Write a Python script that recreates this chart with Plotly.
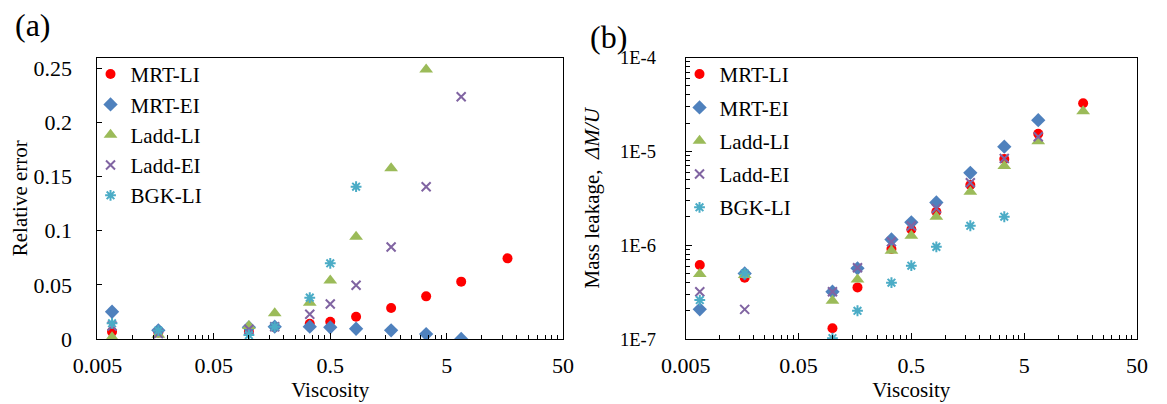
import plotly.graph_objects as go

# ---------------- data ----------------
viscosity = [0.00667, 0.01667, 0.1, 0.16667, 0.33333, 0.5, 0.83333, 1.66667, 3.33333, 6.66667, 16.6667]

# (a) relative error
err_mrt_li  = [0.0068, 0.0060, 0.0068, 0.0110, 0.0140, 0.0160, 0.0206, 0.0286, 0.0394, 0.0530, 0.0745]
err_mrt_ei  = [0.0252, 0.0080, 0.0108, 0.0114, 0.0114, 0.0108, 0.0095, 0.0080, 0.0046, 0.0000, None]
err_ladd_li = [0.0016, 0.0040, 0.0120, 0.0237, 0.0336, 0.0540, 0.0945, 0.1576, 0.2490, None, None]
err_ladd_ei = [0.0120, 0.0050, 0.0090, 0.0114, 0.0228, 0.0323, 0.0496, 0.0850, 0.1407, 0.2238, None]
err_bgk_li  = [0.0145, 0.0078, 0.0037, 0.0114, 0.0382, 0.0699, 0.1407, None, None, None, None]

# (b) mass leakage
ml_mrt_li  = [6.14e-7, 4.5e-7, 1.3e-7, 3.55e-7, 9.1e-7, 1.47e-6, 2.27e-6, 4.37e-6, 8.3e-6, 1.54e-5, 3.26e-5]
ml_mrt_ei  = [2.07e-7, 5.0e-7, 3.19e-7, 5.66e-7, 1.15e-6, 1.75e-6, 2.85e-6, 5.9e-6, 1.12e-5, 2.15e-5, None]
ml_ladd_li = [4.92e-7, 4.8e-7, 2.56e-7, 4.32e-7, 8.7e-7, 1.26e-6, 2.01e-6, 3.7e-6, 6.96e-6, 1.28e-5, 2.68e-5]
ml_ladd_ei = [3.19e-7, 2.07e-7, 3.19e-7, 5.75e-7, 1.09e-6, 1.6e-6, 2.46e-6, 4.62e-6, 8.4e-6, 1.43e-5, None]
ml_bgk_li  = [2.6e-7, 5.0e-7, 1.02e-7, 2.0e-7, 3.98e-7, 6.04e-7, 9.6e-7, 1.61e-6, 2.01e-6, None, None]

series_names = ["MRT-LI", "MRT-EI", "Ladd-LI", "Ladd-EI", "BGK-LI"]
x_ticks = [0.005, 0.05, 0.5, 5, 50]
x_tick_text = ["0.005", "0.05", "0.5", "5", "50"]
err_ticks = [0, 0.05, 0.1, 0.15, 0.2, 0.25]
err_tick_text = ["0", "0.05", "0.1", "0.15", "0.2", "0.25"]
ml_ticks = [1e-7, 1e-6, 1e-5, 1e-4]
ml_tick_text = ["1E-7", "1E-6", "1E-5", "1E-4"]

# ---------------- styles ----------------
FONT = "Liberation Serif"
styles = [
    dict(symbol="circle", size=10, color="#FF0000"),
    dict(symbol="diamond", size=11, color="#4F81BD"),
    dict(symbol="triangle-up", size=12, color="#9BBB59"),
    dict(symbol="x-thin-open", size=9, color="#8064A2", line=dict(width=2, color="#8064A2")),
    dict(symbol="asterisk-open", size=9, color="#4BACC6", line=dict(width=2, color="#4BACC6")),
]

fig = go.Figure()
err_data = [err_mrt_li, err_mrt_ei, err_ladd_li, err_ladd_ei, err_bgk_li]
ml_data = [ml_mrt_li, ml_mrt_ei, ml_ladd_li, ml_ladd_ei, ml_bgk_li]

for i, (name, ys) in enumerate(zip(series_names, err_data)):
    fig.add_trace(go.Scatter(x=viscosity, y=ys, mode="markers", name=name,
                             marker=styles[i], xaxis="x", yaxis="y",
                             legend="legend", legendgroup="a%d" % i))
for i, (name, ys) in enumerate(zip(series_names, ml_data)):
    fig.add_trace(go.Scatter(x=viscosity, y=ys, mode="markers", name=name,
                             marker=styles[i], xaxis="x2", yaxis="y2",
                             legend="legend2", legendgroup="b%d" % i))

minor_x = [0.005 * k * 10 ** n for n in range(4) for k in range(2, 10)]
minor_y = [k * 10.0 ** n for n in range(-7, -4) for k in range(2, 10)]

axis_common = dict(showline=True, linecolor="black", linewidth=1, mirror=True,
                   showgrid=False, zeroline=False, ticks="inside", tickcolor="black",
                   automargin=False,
                   tickfont=dict(family=FONT, size=22, color="black"))

xaxis_base = dict(axis_common, type="log", range=[-2.30103, 1.69897],
                  tickmode="array", tickvals=x_ticks, ticktext=x_tick_text, ticklen=6,
                  ticklabelstandoff=7,
                  minor=dict(tickmode="array", tickvals=minor_x, ticks="inside", ticklen=4,
                             tickcolor="black", showgrid=False),
                  title=dict(text="Viscosity", font=dict(family=FONT, size=21, color="black"), standoff=3))

fig.update_layout(
    width=1159, height=396,
    margin=dict(l=0, r=0, t=0, b=0, autoexpand=False),
    paper_bgcolor="white", plot_bgcolor="white",
    font=dict(family=FONT, size=21, color="black"),
    showlegend=True,
    xaxis=dict(xaxis_base, domain=[0.0772, 0.4789], anchor="y"),
    yaxis=dict(axis_common, range=[0, 0.26], tickmode="array", tickvals=err_ticks,
               ticktext=err_tick_text, ticklen=5, anchor="x", domain=[0.1641, 0.875],
               ticklabelstandoff=20,
               title=dict(text="Relative error", font=dict(family=FONT, size=21, color="black"), standoff=10)),
    xaxis2=dict(xaxis_base, domain=[0.5847, 0.9741], anchor="y2"),
    yaxis2=dict(axis_common, type="log", range=[-7, -4], tickmode="array", tickvals=ml_ticks,
                ticktext=ml_tick_text, ticklen=6, anchor="x2", domain=[0.1641, 0.875],
                tickfont=dict(family=FONT, size=18.5, color="black"), ticklabelstandoff=25,
                minor=dict(tickmode="array", tickvals=minor_y, ticks="inside", ticklen=4,
                           tickcolor="black", showgrid=False),
                title=dict(text="Mass leakage,  <i>ΔM/U</i>", font=dict(family=FONT, size=21, color="black"), standoff=14)),
    legend=dict(x=0.0712, y=0.884, xanchor="left", yanchor="top", bgcolor="rgba(0,0,0,0)",
                font=dict(family=FONT, size=21, color="black"), itemwidth=30, tracegroupgap=0),
    legend2=dict(x=0.5794, y=0.884, xanchor="left", yanchor="top", bgcolor="rgba(0,0,0,0)",
                 font=dict(family=FONT, size=21, color="black"), itemwidth=30, tracegroupgap=3),
    annotations=[
        dict(text="(a)", x=0.0216, y=0.957, xref="paper", yref="paper", showarrow=False,
             xanchor="center", yanchor="middle", font=dict(family=FONT, size=32, color="black")),
        dict(text="(b)", x=0.5177, y=0.9268, xref="paper", yref="paper", showarrow=False,
             xanchor="center", yanchor="middle", font=dict(family=FONT, size=32, color="black")),
    ],
)

fig.write_html("out.html")
